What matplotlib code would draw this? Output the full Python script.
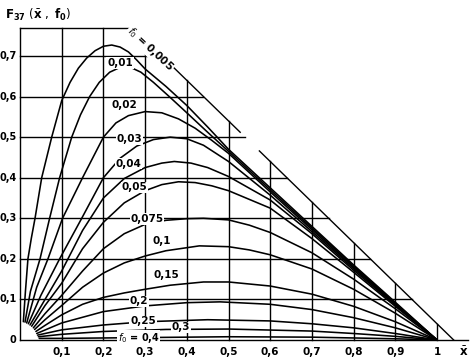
import matplotlib
matplotlib.use("Agg")
import matplotlib.pyplot as plt

# curve parameters f0 and the points (x, F)
x_f0005 = [0.008, 0.013, 0.019, 0.027, 0.036, 0.052, 0.076, 0.1, 0.12, 0.14, 0.16, 0.18, 0.2, 0.22, 0.24, 0.26, 0.28, 0.3, 0.35, 0.4, 0.45, 0.5, 0.6, 0.7, 0.8, 0.9, 1.0]
y_f0005 = [0.045, 0.12, 0.2, 0.25, 0.3, 0.4, 0.5, 0.59, 0.635, 0.67, 0.695, 0.713, 0.724, 0.727, 0.722, 0.71, 0.69, 0.668, 0.625, 0.578, 0.525, 0.47, 0.375, 0.28, 0.185, 0.093, 0.0]

x_f001 = [0.012, 0.025, 0.048, 0.071, 0.095, 0.124, 0.145, 0.167, 0.19, 0.215, 0.24, 0.265, 0.29, 0.32, 0.36, 0.4, 0.45, 0.5, 0.6, 0.7, 0.8, 0.9, 1.0]
y_f001 = [0.044, 0.12, 0.2, 0.3, 0.4, 0.5, 0.555, 0.6, 0.635, 0.66, 0.672, 0.672, 0.66, 0.635, 0.598, 0.56, 0.512, 0.465, 0.37, 0.276, 0.182, 0.091, 0.0]

x_f002 = [0.016, 0.04, 0.067, 0.102, 0.15, 0.2, 0.23, 0.26, 0.3, 0.34, 0.38, 0.42, 0.46, 0.5, 0.6, 0.7, 0.8, 0.9, 1.0]
y_f002 = [0.042, 0.13, 0.2, 0.3, 0.4, 0.5, 0.535, 0.553, 0.563, 0.56, 0.545, 0.522, 0.492, 0.46, 0.365, 0.272, 0.179, 0.089, 0.0]

x_f003 = [0.02, 0.05, 0.095, 0.148, 0.2, 0.24, 0.28, 0.32, 0.36, 0.4, 0.44, 0.5, 0.6, 0.7, 0.8, 0.9, 1.0]
y_f003 = [0.04, 0.11, 0.2, 0.3, 0.4, 0.448, 0.478, 0.494, 0.5, 0.496, 0.48, 0.44, 0.357, 0.267, 0.176, 0.088, 0.0]

x_f004 = [0.024, 0.06, 0.1, 0.15, 0.2, 0.25, 0.3, 0.34, 0.37, 0.41, 0.45, 0.5, 0.6, 0.7, 0.8, 0.9, 1.0]
y_f004 = [0.037, 0.1, 0.17, 0.27, 0.35, 0.398, 0.425, 0.436, 0.44, 0.436, 0.425, 0.403, 0.345, 0.262, 0.172, 0.086, 0.0]

x_f005 = [0.028, 0.06, 0.1, 0.15, 0.2, 0.25, 0.3, 0.34, 0.38, 0.42, 0.46, 0.5, 0.6, 0.7, 0.8, 0.9, 1.0]
y_f005 = [0.034, 0.085, 0.14, 0.225, 0.29, 0.338, 0.368, 0.383, 0.39, 0.388, 0.38, 0.368, 0.325, 0.25, 0.167, 0.083, 0.0]

x_f0075 = [0.032, 0.06, 0.1, 0.15, 0.2, 0.25, 0.3, 0.35, 0.4, 0.44, 0.5, 0.55, 0.6, 0.7, 0.8, 0.9, 1.0]
y_f0075 = [0.03, 0.065, 0.11, 0.17, 0.225, 0.262, 0.285, 0.295, 0.299, 0.3, 0.296, 0.283, 0.265, 0.215, 0.15, 0.077, 0.0]

x_f01 = [0.035, 0.06, 0.1, 0.15, 0.2, 0.25, 0.3, 0.35, 0.43, 0.5, 0.55, 0.6, 0.7, 0.8, 0.9, 1.0]
y_f01 = [0.026, 0.05, 0.085, 0.13, 0.165, 0.19, 0.207, 0.22, 0.232, 0.23, 0.222, 0.21, 0.175, 0.125, 0.066, 0.0]

x_f015 = [0.038, 0.06, 0.1, 0.15, 0.2, 0.25, 0.3, 0.36, 0.44, 0.5, 0.6, 0.7, 0.8, 0.9, 1.0]
y_f015 = [0.021, 0.036, 0.062, 0.088, 0.105, 0.116, 0.125, 0.135, 0.143, 0.143, 0.133, 0.113, 0.083, 0.045, 0.0]

x_f02 = [0.04, 0.1, 0.2, 0.3, 0.4, 0.48, 0.6, 0.7, 0.8, 0.9, 1.0]
y_f02 = [0.016, 0.042, 0.07, 0.084, 0.092, 0.094, 0.088, 0.075, 0.055, 0.03, 0.0]

x_f025 = [0.042, 0.1, 0.2, 0.3, 0.45, 0.6, 0.7, 0.8, 0.9, 1.0]
y_f025 = [0.012, 0.025, 0.037, 0.045, 0.05, 0.047, 0.04, 0.03, 0.016, 0.0]

x_f03 = [0.044, 0.1, 0.2, 0.35, 0.5, 0.7, 0.8, 0.9, 1.0]
y_f03 = [0.008, 0.014, 0.021, 0.026, 0.027, 0.022, 0.016, 0.009, 0.0]

x_f04 = [0.046, 0.1, 0.3, 0.5, 0.7, 0.9, 1.0]
y_f04 = [0.004, 0.004, 0.006, 0.008, 0.007, 0.003, 0.0]

curves = [(x_f0005, y_f0005), (x_f001, y_f001), (x_f002, y_f002), (x_f003, y_f003),
          (x_f004, y_f004), (x_f005, y_f005), (x_f0075, y_f0075), (x_f01, y_f01),
          (x_f015, y_f015), (x_f02, y_f02), (x_f025, y_f025), (x_f03, y_f03), (x_f04, y_f04)]

# curve labels and where they sit on the chart
curve_labels = ["0,01", "0,02", "0,03", "0,04", "0,05", "0,075", "0,1", "0,15", "0,2", "0,25", "0,3"]
label_x = [0.24, 0.25, 0.262, 0.26, 0.275, 0.305, 0.34, 0.352, 0.285, 0.295, 0.385]
label_y = [0.683, 0.578, 0.495, 0.435, 0.376, 0.298, 0.243, 0.16, 0.095, 0.046, 0.031]

x_ticks = [0.1, 0.2, 0.3, 0.4, 0.5, 0.6, 0.7, 0.8, 0.9, 1.0]
x_ticklabels = ["0,1", "0,2", "0,3", "0,4", "0,5", "0,6", "0,7", "0,8", "0,9", "1"]
y_ticks = [0.0, 0.1, 0.2, 0.3, 0.4, 0.5, 0.6, 0.7]
y_ticklabels = ["0", "0,1", "0,2", "0,3", "0,4", "0,5", "0,6", "0,7"]

top = 0.77      # upper border of the grid
edge = 1.04     # outer diagonal border: y = edge - x

fig = plt.figure(figsize=(4.71, 3.63), dpi=100)
ax = fig.add_axes([0, 0, 1, 1])
ax.set_xlim(-0.048, 1.0815)
ax.set_ylim(-0.0567, 0.838)
ax.axis("off")

lw_grid = 1.0
lw_curve = 1.15

# frame
ax.plot([0, 0], [0, top], color="black", lw=lw_grid)
ax.plot([0, edge - top], [top, top], color="black", lw=lw_grid)
ax.plot([0, 1.075], [0, 0], color="black", lw=lw_grid)
ax.plot([edge - top, 0.528], [top, edge - 0.528], color="black", lw=lw_grid)
ax.plot([0.574, edge], [edge - 0.574, 0], color="black", lw=lw_grid)

# grid, clipped by the diagonal border
for xv in x_ticks:
    ax.plot([xv, xv], [0, min(top, edge - xv)], color="black", lw=lw_grid)
for yv in y_ticks[1:]:
    ax.plot([0, edge - yv], [yv, yv], color="black", lw=lw_grid)

for xs, ys in curves:
    ax.plot(xs, ys, color="black", lw=lw_curve, solid_capstyle="round")

txt = dict(fontsize=7.5, fontweight="bold", color="black", family="DejaVu Sans")
small = dict(txt, fontsize=7)
box = dict(facecolor="white", edgecolor="none", pad=0.5)

for lab, lx, ly in zip(curve_labels, label_x, label_y):
    ax.text(lx, ly, lab, ha="center", va="center", bbox=box, **txt)
ax.text(0.285, 0.005, r"$f_0$ = 0,4", ha="center", va="center", bbox=box, **small)
ax.text(0.312, 0.717, r"$f_0$ = 0,005", ha="center", va="center", rotation=-43,
        bbox=box, **txt)

for xv, lab in zip(x_ticks, x_ticklabels):
    ax.text(xv, -0.03, lab, ha="center", va="center", **txt)
ax.text(1.063, -0.03, r"$\bar{\mathbf{x}}$", ha="center", va="center", fontsize=8.5)
for yv, lab in zip(y_ticks, y_ticklabels):
    ax.text(-0.009, yv, lab, ha="right", va="center", **small)

ax.text(-0.036, 0.8, r"$\mathbf{F_{37}}\ (\bar{\mathbf{x}}\ ,\ \mathbf{f_0})$",
        ha="left", va="center", fontsize=8.5)

fig.savefig("out.png", dpi=100)
